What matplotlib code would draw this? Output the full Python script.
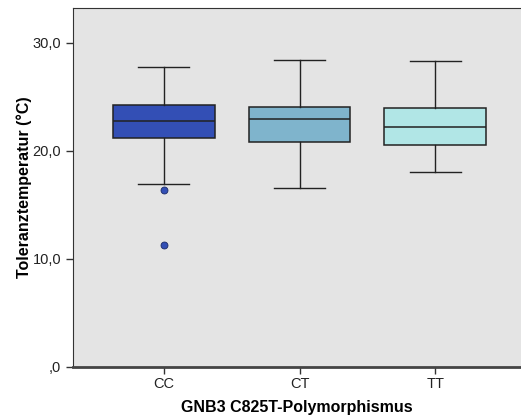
import matplotlib
matplotlib.use("Agg")
import matplotlib.pyplot as plt

plt.rcParams['font.family'] = ['Liberation Sans', 'DejaVu Sans']

# genotype groups and their box statistics (°C)
genotypes = ["CC", "CT", "TT"]
whisker_low = [16.94, 16.57, 18.05]
q1 = [21.2, 20.83, 20.52]
median = [22.75, 22.9, 22.16]
q3 = [24.2, 24.04, 23.92]
whisker_high = [27.75, 28.43, 28.3]
outliers = [[16.36, 11.27], [], []]
colors = ["#334fb5", "#7fb4cc", "#b1e6e6"]

yticks = [0, 10, 20, 30]
ytick_labels = [",0", "10,0", "20,0", "30,0"]

stats = []
for i, g in enumerate(genotypes):
    stats.append({
        "label": g, "whislo": whisker_low[i], "q1": q1[i], "med": median[i],
        "q3": q3[i], "whishi": whisker_high[i], "fliers": outliers[i],
    })

fig = plt.figure(figsize=(5.21, 4.18), dpi=100)
ax = fig.add_axes([73 / 521, 51 / 418, 448 / 521, 359 / 418])
ax.set_facecolor("#e4e4e4")

bp = ax.bxp(stats, positions=range(len(genotypes)), widths=0.75, patch_artist=True,
            showfliers=True,
            boxprops=dict(edgecolor="#222222", linewidth=1.1),
            medianprops=dict(color="#222222", linewidth=1.1),
            whiskerprops=dict(color="#222222", linewidth=1.0),
            capprops=dict(color="#222222", linewidth=1.0),
            capwidths=0.375,
            flierprops=dict(marker="o", markersize=5, markerfacecolor=colors[0],
                            markeredgecolor="#1a2a66", markeredgewidth=0.6))
for patch, c in zip(bp["boxes"], colors):
    patch.set_facecolor(c)

ax.set_xlim(-0.667, 2.63)
ax.set_ylim(0, 33.2)
ax.set_yticks(yticks)
ax.set_yticklabels(ytick_labels, fontsize=10.5, color="#222222")
ax.set_xticks(range(len(genotypes)))
ax.set_xticklabels(genotypes, fontsize=10.5, color="#222222")
ax.tick_params(axis="both", length=5, width=1, color="#333333")
ax.tick_params(axis="x", pad=2)

ax.spines["right"].set_visible(False)
ax.spines["top"].set_color("#333333")
ax.spines["left"].set_color("#333333")
ax.spines["bottom"].set_color("#444444")
ax.spines["bottom"].set_linewidth(2)

ax.set_xlabel("GNB3 C825T-Polymorphismus", fontsize=11.5, fontweight="bold", labelpad=7)
ax.set_ylabel("Toleranztemperatur (°C)", fontsize=11.5, fontweight="bold")
ax.yaxis.set_label_coords(-0.092, 0.5)

fig.savefig("out.png", dpi=100)
